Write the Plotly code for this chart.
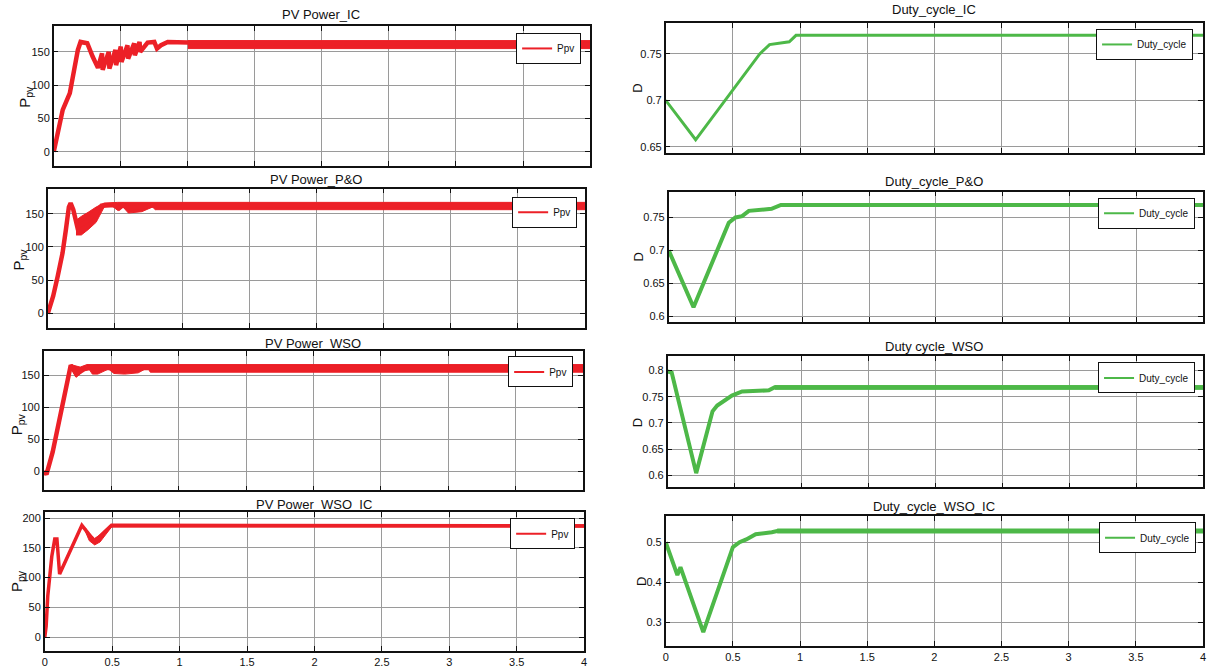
import plotly.graph_objects as go

W, H = 1208, 669

# ---------------- data ----------------
# PV Power_IC
t_pic = [0, 0.03, 0.067, 0.12, 0.155, 0.18, 0.2, 0.25, 0.29, 0.33, 0.36, 0.365, 0.41, 0.415, 0.46, 0.465,
         0.5, 0.505, 0.55, 0.555, 0.6, 0.605, 0.64, 0.645, 0.7, 0.75, 0.77, 0.8, 0.85, 1.0, 4.0]
p_pic = [0, 28, 63, 88, 128, 153, 165, 163, 143, 126, 148, 123, 150, 125, 153, 130,
         158, 135, 160, 140, 163, 145, 165, 150, 164, 165, 155, 160, 165, 164, 161]
tb_pic = [1.0, 4.0]
up_pic = [167, 167]
lo_pic = [155, 155]

# PV Power_P&O
t_ppo = [0, 0.04, 0.074, 0.11, 0.135, 0.157, 0.17, 0.19, 0.22, 0.3, 0.4, 0.5, 0.53, 0.56, 0.6, 0.7, 0.82, 4.0]
p_ppo = [0, 26, 56, 91, 126, 160, 166, 156, 130, 140, 162, 163, 158, 163, 158, 160, 163, 161]
tb_ppo = [0.21, 0.25, 0.3, 0.36, 0.42, 0.47, 0.52, 0.56, 0.6, 0.7, 0.78, 0.8, 4.0]
up_ppo = [140, 146, 152, 160, 166, 167, 167, 167, 167, 167, 167, 167, 167]
lo_ppo = [118, 118, 126, 137, 160, 163, 155, 160, 151, 153, 160, 156, 156]

# PV Power_WSO
t_pws = [0, 0.02, 0.066, 0.1, 0.14, 0.163, 0.185, 0.2, 0.24, 0.3, 0.35, 4.0]
p_pws = [0, -5, 30, 65, 102, 133, 155, 166, 152, 160, 162, 161]
tb_pws = [0.2, 0.24, 0.27, 0.32, 0.36, 0.4, 0.44, 0.48, 0.52, 0.6, 0.7, 0.77, 0.79, 4.0]
up_pws = [167, 165, 163, 167, 167, 167, 167, 167, 167, 167, 167, 167, 167, 167]
lo_pws = [162, 147, 152, 165, 152, 152, 156, 160, 153, 152, 154, 162, 155, 155]

# PV Power_WSO_IC
t_pwi = [0, 0.01, 0.022, 0.037, 0.052, 0.074, 0.09, 0.11, 0.275, 0.37, 0.495, 4.0]
p_pwi = [0, 18, 69, 102, 136, 165, 165, 106, 188, 161, 188, 187]
tb_pwi = [0.3, 0.33, 0.37, 0.41, 0.45, 0.495, 4.0]
up_pwi = [184, 174, 166, 172, 181, 189, 189]
lo_pwi = [178, 162, 155, 160, 172, 185, 185]

# Duty_cycle_IC
t_dic = [0, 0.223, 0.7, 0.773, 0.92, 0.97, 4.0]
d_dic = [0.7, 0.6575, 0.75, 0.76, 0.763, 0.77, 0.77]

# Duty_cycle_P&O
t_dpo = [0, 0.186, 0.45, 0.5, 0.55, 0.6, 0.77, 0.84, 4.0]
d_dpo = [0.7, 0.6136, 0.742, 0.75, 0.752, 0.76, 0.763, 0.769, 0.769]

# Duty cycle_WSO
t_dws = [0, 0.03, 0.213, 0.335, 0.37, 0.48, 0.556, 0.756, 0.8, 4.0]
d_dws = [0.798, 0.796, 0.604, 0.722, 0.733, 0.752, 0.76, 0.762, 0.768, 0.768]
tb_dws = [0.8, 4.0]
up_dws = [0.771, 0.771]
lo_dws = [0.764, 0.764]

# Duty_cycle_WSO_IC
t_dwi = [0, 0.087, 0.11, 0.28, 0.5, 0.55, 0.6, 0.67, 0.79, 0.83, 4.0]
d_dwi = [0.5, 0.4175, 0.4375, 0.275, 0.4875, 0.5, 0.507, 0.52, 0.525, 0.528, 0.528]
tb_dwi = [0.83, 4.0]
up_dwi = [0.533, 0.533]
lo_dwi = [0.523, 0.523]

x_ticks = [0, 0.5, 1, 1.5, 2, 2.5, 3, 3.5, 4]
x_ticktext = ["0", "0.5", "1", "1.5", "2", "2.5", "3", "3.5", "4"]

RED = "#EC2027"
GREEN = "#4DB848"
FONT = "Liberation Sans, Arial, sans-serif"

# ---------------- panel layout (pixels) ----------------
panels = [
    dict(title="PV Power_IC", tx=320, ty=15, box=(51, 590, 26, 166), yr=[-21, 189], yt=[0, 50, 100, 150],
         lab=(23, 97), leg=(581, 33), name="Ppv", color=RED,
         t=t_pic, v=p_pic, tb=tb_pic, up=up_pic, lo=lo_pic, w=4.5),
    dict(title="PV Power_P&O", tx=315, ty=180, box=(45, 585, 189, 328), yr=[-21, 187.5], yt=[0, 50, 100, 150],
         lab=(17, 260), leg=(577, 197), name="Ppv", color=RED,
         t=t_ppo, v=p_ppo, tb=tb_ppo, up=up_ppo, lo=lo_ppo, w=4.5),
    dict(title="PV Power_WSO", tx=312, ty=344, box=(41, 583, 352, 491), yr=[-30, 187.5], yt=[0, 50, 100, 150],
         lab=(14, 425), leg=(573, 357), name="Ppv", color=RED,
         t=t_pws, v=p_pws, tb=tb_pws, up=up_pws, lo=lo_pws, w=4.5),
    dict(title="PV Power_WSO_IC", tx=313, ty=505, box=(42, 584, 513, 652), yr=[-23.5, 210], yt=[0, 50, 100, 150, 200],
         lab=(14, 582), leg=(575, 519), name="Ppv", color=RED,
         t=t_pwi, v=p_pwi, tb=tb_pwi, up=up_pwi, lo=lo_pwi, w=3.5),
    dict(title="Duty_cycle_IC", tx=936, ty=10, box=(666, 1206, 23, 153), yr=[0.6435, 0.7833], yt=[0.65, 0.7, 0.75],
         lab=(638, 88), leg=(1196, 29), name="Duty_cycle", color=GREEN,
         t=t_dic, v=d_dic, tb=None, up=None, lo=None, w=3),
    dict(title="Duty_cycle_P&O", tx=936, ty=182, box=(669, 1206, 192, 322), yr=[0.592, 0.789],
         yt=[0.6, 0.65, 0.7, 0.75], lab=(639, 257), leg=(1198, 198), name="Duty_cycle", color=GREEN,
         t=t_dpo, v=d_dpo, tb=None, up=None, lo=None, w=4),
    dict(title="Duty cycle_WSO", tx=936, ty=347, box=(668, 1206, 357, 488), yr=[0.577, 0.8267],
         yt=[0.6, 0.65, 0.7, 0.75, 0.8], lab=(638, 423), leg=(1198, 363), name="Duty_cycle", color=GREEN,
         t=t_dws, v=d_dws, tb=tb_dws, up=up_dws, lo=lo_dws, w=4),
    dict(title="Duty_cycle_WSO_IC", tx=936, ty=507, box=(666, 1206, 517, 647), yr=[0.24, 0.565],
         yt=[0.3, 0.4, 0.5], lab=(641, 582), leg=(1199, 523), name="Duty_cycle", color=GREEN,
         t=t_dwi, v=d_dwi, tb=tb_dwi, up=up_dwi, lo=lo_dwi, w=4),
]

fig = go.Figure()
annotations = []
layout = dict(
    width=W, height=H, margin=dict(l=0, r=0, t=0, b=0),
    paper_bgcolor="white", plot_bgcolor="white",
    font=dict(family=FONT, size=11, color="#111111"),
)

for i, p in enumerate(panels, start=1):
    sfx = "" if i == 1 else str(i)
    xa, ya = "x" + sfx, "y" + sfx
    leg = "legend" + sfx
    x0, x1, y0, y1 = p["box"]
    if p["tb"] is not None:
        fig.add_trace(go.Scatter(
            x=p["tb"] + p["tb"][::-1], y=p["up"] + p["lo"][::-1],
            fill="toself", fillcolor=p["color"], mode="lines",
            line=dict(color=p["color"], width=1), xaxis=xa, yaxis=ya,
            showlegend=False, hoverinfo="skip", legend=leg, legendgroup=leg))
    fig.add_trace(go.Scatter(
        x=p["t"], y=p["v"], mode="lines", name=p["name"],
        line=dict(color=p["color"], width=p["w"], shape="linear"),
        xaxis=xa, yaxis=ya, legend=leg, legendgroup=leg, showlegend=False))
    # legend entry with the thin line used in the reference key
    fig.add_trace(go.Scatter(
        x=[None], y=[None], mode="lines", name=p["name"],
        line=dict(color=p["color"], width=2, shape="hv"),
        xaxis=xa, yaxis=ya, legend=leg, legendgroup=leg, showlegend=True, hoverinfo="skip"))
    bottom = i in (4, 8)
    layout["xaxis" + sfx] = dict(
        domain=[x0 / W, x1 / W], anchor=ya, range=[0, 4],
        tickvals=x_ticks, ticktext=x_ticktext, showticklabels=bottom,
        showgrid=True, gridcolor="#9a9a9a", gridwidth=1, zeroline=False,
        showline=True, linecolor="#111111", linewidth=1.5, mirror="ticks",
        ticks="inside", ticklen=5, tickcolor="#111111",
        tickfont=dict(family=FONT, size=11, color="#111111"),
    )
    layout["yaxis" + sfx] = dict(
        domain=[1 - y1 / H, 1 - y0 / H], anchor=xa, range=p["yr"],
        tickvals=p["yt"], showgrid=True, gridcolor="#9a9a9a", gridwidth=1, zeroline=False,
        showline=True, linecolor="#111111", linewidth=1.5, mirror="ticks",
        ticks="inside", ticklen=5, tickcolor="#111111",
        tickfont=dict(family=FONT, size=11, color="#111111"),
    )
    layout[leg] = dict(
        x=p["leg"][0] / W, y=1 - p["leg"][1] / H, xanchor="right", yanchor="top",
        xref="paper", yref="paper",
        bgcolor="white", bordercolor="#111111", borderwidth=1,
        font=dict(family=FONT, size=10, color="#111111"),
        itemwidth=30, tracegroupgap=0,
    )
    annotations.append(dict(
        text=p["title"], x=p["tx"] / W, y=1 - p["ty"] / H, xref="paper", yref="paper",
        showarrow=False, xanchor="center", yanchor="middle",
        font=dict(family=FONT, size=13, color="#111111")))
    ylab = "P<sub>pv</sub>" if p["color"] == RED else "D"
    annotations.append(dict(
        text=ylab, x=p["lab"][0] / W, y=1 - p["lab"][1] / H, xref="paper", yref="paper",
        showarrow=False, xanchor="center", yanchor="middle", textangle=-90,
        font=dict(family=FONT, size=15 if p["color"] == RED else 13, color="#111111")))

layout["annotations"] = annotations
fig.update_layout(**layout)

fig.write_html("out.html", config={"displayModeBar": False},
               post_script="document.body.style.margin='0';document.body.style.overflow='hidden';")
